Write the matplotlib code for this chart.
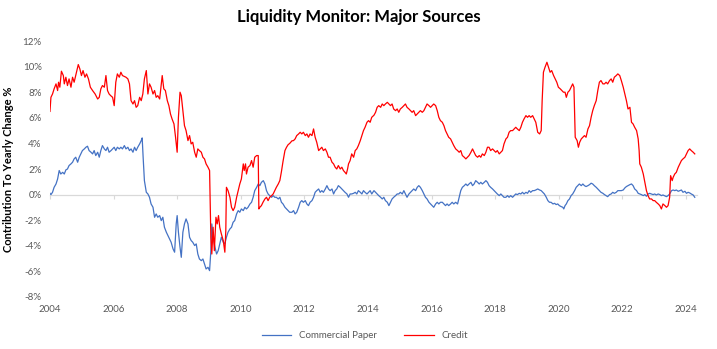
import matplotlib
matplotlib.use("Agg")
import matplotlib.pyplot as plt

# values (decimal years, % contribution)
credit_years = [
    2004.00, 2004.03, 2004.08, 2004.13, 2004.19, 2004.24, 2004.27, 2004.31, 2004.36, 2004.42,
    2004.45, 2004.50, 2004.55, 2004.60, 2004.66, 2004.71, 2004.76, 2004.81, 2004.89, 2004.94,
    2004.99, 2005.04, 2005.10, 2005.15, 2005.21, 2005.27, 2005.34, 2005.42, 2005.50, 2005.55,
    2005.60, 2005.65, 2005.71, 2005.76, 2005.81, 2005.86, 2005.91, 2005.97, 2006.02, 2006.07,
    2006.12, 2006.18, 2006.23, 2006.28, 2006.39, 2006.45, 2006.50, 2006.55, 2006.61, 2006.66,
    2006.71, 2006.76, 2006.82, 2006.87, 2006.92, 2006.97, 2007.03, 2007.08, 2007.13, 2007.18,
    2007.24, 2007.29, 2007.34, 2007.39, 2007.45, 2007.50, 2007.53, 2007.58, 2007.63, 2007.69,
    2007.74, 2007.79, 2007.84, 2007.90, 2007.95, 2008.00, 2008.04, 2008.09, 2008.13, 2008.18,
    2008.23, 2008.28, 2008.34, 2008.39, 2008.44, 2008.49, 2008.55, 2008.60, 2008.65, 2008.70,
    2008.76, 2008.81, 2008.86, 2008.91, 2008.97, 2009.02, 2009.06, 2009.09, 2009.13, 2009.17,
    2009.22, 2009.26, 2009.30, 2009.34, 2009.39, 2009.45, 2009.50, 2009.53, 2009.55, 2009.60,
    2009.66, 2009.71, 2009.76, 2009.81, 2009.87, 2009.92, 2009.97, 2010.02, 2010.08, 2010.11,
    2010.15, 2010.18, 2010.23, 2010.29, 2010.34, 2010.39, 2010.44, 2010.50, 2010.55, 2010.57,
    2010.60, 2010.65, 2010.70, 2010.76, 2010.81, 2010.86, 2010.91, 2010.97, 2011.02, 2011.07,
    2011.12, 2011.18, 2011.23, 2011.28, 2011.33, 2011.39, 2011.44, 2011.49, 2011.54, 2011.61,
    2011.66, 2011.71, 2011.76, 2011.82, 2011.87, 2011.92, 2011.97, 2012.03, 2012.08, 2012.13,
    2012.18, 2012.24, 2012.29, 2012.34, 2012.39, 2012.45, 2012.50, 2012.55, 2012.60, 2012.66,
    2012.71, 2012.76, 2012.81, 2012.87, 2012.92, 2012.97, 2013.02, 2013.07, 2013.13, 2013.18,
    2013.23, 2013.28, 2013.32, 2013.36, 2013.39, 2013.44, 2013.49, 2013.55, 2013.60, 2013.65,
    2013.70, 2013.76, 2013.81, 2013.86, 2013.91, 2013.97, 2014.02, 2014.07, 2014.12, 2014.19,
    2014.24, 2014.29, 2014.34, 2014.40, 2014.45, 2014.50, 2014.55, 2014.61, 2014.66, 2014.71,
    2014.76, 2014.81, 2014.87, 2014.92, 2014.97, 2015.02, 2015.08, 2015.13, 2015.18, 2015.23,
    2015.29, 2015.34, 2015.39, 2015.44, 2015.50, 2015.55, 2015.60, 2015.65, 2015.71, 2015.76,
    2015.81, 2015.86, 2015.92, 2015.97, 2016.02, 2016.07, 2016.13, 2016.18, 2016.23, 2016.28,
    2016.34, 2016.39, 2016.44, 2016.49, 2016.54, 2016.60, 2016.65, 2016.70, 2016.76, 2016.82,
    2016.87, 2016.92, 2016.97, 2017.03, 2017.08, 2017.13, 2017.18, 2017.24, 2017.29, 2017.34,
    2017.39, 2017.45, 2017.50, 2017.55, 2017.60, 2017.66, 2017.71, 2017.76, 2017.81, 2017.86,
    2017.92, 2017.97, 2018.02, 2018.07, 2018.13, 2018.18, 2018.23, 2018.28, 2018.34, 2018.39,
    2018.44, 2018.49, 2018.55, 2018.60, 2018.65, 2018.70, 2018.76, 2018.81, 2018.86, 2018.91,
    2018.97, 2019.02, 2019.07, 2019.12, 2019.18, 2019.23, 2019.28, 2019.34, 2019.40, 2019.45,
    2019.48, 2019.52, 2019.57, 2019.63, 2019.68, 2019.73, 2019.78, 2019.84, 2019.89, 2019.94,
    2019.99, 2020.05, 2020.10, 2020.15, 2020.20, 2020.24, 2020.29, 2020.34, 2020.39, 2020.44,
    2020.48, 2020.50, 2020.52, 2020.55, 2020.58, 2020.62, 2020.66, 2020.71, 2020.76, 2020.81,
    2020.86, 2020.92, 2020.97, 2021.02, 2021.07, 2021.12, 2021.18, 2021.23, 2021.28, 2021.33,
    2021.39, 2021.44, 2021.49, 2021.54, 2021.60, 2021.65, 2021.70, 2021.75, 2021.81, 2021.86,
    2021.92, 2021.97, 2022.03, 2022.08, 2022.13, 2022.18, 2022.24, 2022.29, 2022.34, 2022.39,
    2022.45, 2022.50, 2022.53, 2022.55, 2022.60, 2022.66, 2022.71, 2022.76, 2022.81, 2022.86,
    2022.92, 2022.97, 2023.02, 2023.07, 2023.13, 2023.18, 2023.23, 2023.28, 2023.34, 2023.39,
    2023.44, 2023.49, 2023.52, 2023.57, 2023.60, 2023.65, 2023.70, 2023.76, 2023.81, 2023.86,
    2023.91, 2023.97, 2024.02, 2024.07, 2024.12, 2024.17, 2024.23, 2024.28,
]
credit_values = [
    6.50, 7.60, 7.86, 8.26, 8.65, 8.13, 8.78, 8.39, 9.64, 9.30,
    8.65, 9.17, 8.52, 9.04, 8.39, 9.17, 8.78, 9.30, 10.16, 9.82,
    9.30, 9.69, 9.17, 9.43, 9.04, 8.39, 8.13, 7.86, 7.47, 7.60,
    8.26, 8.52, 8.39, 9.30, 8.13, 7.86, 7.73, 7.60, 6.95, 8.78,
    9.43, 9.17, 9.56, 9.30, 9.17, 9.04, 8.65, 7.34, 7.08, 7.34,
    6.82, 6.95, 7.60, 7.34, 7.86, 9.04, 9.69, 7.86, 8.65, 8.39,
    7.86, 8.13, 7.60, 7.73, 7.47, 8.65, 9.30, 8.26, 8.13, 7.34,
    6.95, 6.30, 5.91, 5.52, 4.48, 3.31, 6.04, 8.00, 7.73, 6.56,
    5.39, 5.00, 4.22, 4.61, 3.96, 4.09, 3.31, 2.92, 3.57, 3.44,
    3.31, 2.92, 2.79, 2.40, 2.14, 1.88, -3.33, -4.64, -2.55, -4.38,
    -1.77, -2.29, -1.64, -2.55, -3.07, -3.59, -4.50, -2.81, 0.57, 0.31,
    -0.21, -0.99, -1.25, -0.99, -0.21, 0.31, 0.83, 1.22, 2.40, 1.88,
    2.40, 1.61, 2.14, 2.27, 2.66, 2.14, 2.92, 3.05, 3.05, -1.12,
    -0.99, -0.86, -0.60, -0.34, -0.21, -0.47, -0.21, -0.08, 0.05, 0.31,
    0.57, 0.83, 1.10, 1.80, 2.60, 3.44, 3.70, 3.90, 4.00, 4.20,
    4.22, 4.35, 4.61, 4.74, 4.87, 4.74, 4.87, 4.61, 4.74, 4.48,
    4.74, 4.61, 5.13, 4.48, 4.09, 3.44, 3.57, 3.70, 3.44, 3.57,
    3.31, 2.92, 2.92, 2.53, 2.40, 2.14, 2.00, 2.27, 2.00, 2.14,
    1.88, 1.74, 1.61, 2.00, 2.40, 2.66, 3.18, 2.92, 3.44, 3.57,
    3.83, 4.22, 4.61, 5.00, 5.26, 5.65, 5.78, 5.65, 6.04, 6.20,
    6.43, 6.82, 6.95, 6.82, 7.08, 6.95, 7.08, 7.21, 7.08, 6.95,
    7.08, 6.69, 6.56, 6.69, 6.43, 6.69, 6.82, 6.95, 7.08, 6.82,
    6.69, 6.56, 6.43, 6.56, 6.17, 6.30, 6.43, 6.56, 6.43, 6.56,
    6.82, 7.08, 6.95, 6.82, 6.95, 7.08, 6.95, 6.56, 6.04, 5.78,
    5.65, 5.39, 5.00, 4.74, 4.48, 4.35, 4.09, 3.83, 3.57, 3.44,
    3.31, 3.44, 3.05, 2.92, 2.79, 2.92, 3.05, 3.31, 3.57, 3.31,
    3.05, 2.92, 3.05, 2.92, 3.18, 3.05, 3.31, 3.70, 3.70, 3.44,
    3.57, 3.44, 3.31, 3.44, 3.18, 3.31, 3.44, 3.96, 4.35, 4.48,
    4.87, 5.00, 5.00, 5.13, 5.26, 5.13, 5.00, 5.26, 5.65, 5.91,
    6.17, 6.04, 6.17, 6.04, 6.17, 5.91, 5.65, 4.87, 4.74, 5.00,
    7.34, 9.56, 9.95, 10.34, 9.95, 9.56, 9.69, 9.30, 9.04, 8.78,
    8.39, 8.26, 8.13, 8.00, 8.00, 7.60, 8.00, 8.13, 8.39, 8.65,
    8.39, 6.56, 4.48, 4.35, 4.22, 3.70, 4.09, 4.35, 4.48, 4.61,
    4.48, 5.13, 5.39, 6.04, 6.56, 6.95, 7.34, 8.13, 8.78, 8.91,
    8.65, 8.65, 8.78, 8.65, 8.91, 9.04, 8.78, 9.17, 9.30, 9.43,
    9.30, 8.91, 8.39, 7.86, 7.34, 6.69, 6.82, 5.65, 5.52, 5.26,
    5.00, 4.35, 3.44, 2.40, 2.14, 1.61, 0.96, 0.31, -0.08, -0.34,
    -0.34, -0.47, -0.47, -0.60, -0.73, -0.86, -1.12, -0.73, -0.86, -0.99,
    -0.86, -0.21, 1.48, 1.09, 1.35, 1.61, 1.74, 2.14, 2.40, 2.66,
    2.79, 2.92, 3.18, 3.44, 3.57, 3.44, 3.31, 3.18,
]

cp_years = [
    2004.00, 2004.03, 2004.08, 2004.13, 2004.19, 2004.24, 2004.29, 2004.34, 2004.40, 2004.45,
    2004.50, 2004.55, 2004.60, 2004.66, 2004.71, 2004.76, 2004.81, 2004.87, 2004.92, 2004.97,
    2005.02, 2005.08, 2005.13, 2005.18, 2005.23, 2005.29, 2005.34, 2005.39, 2005.44, 2005.50,
    2005.55, 2005.60, 2005.65, 2005.71, 2005.76, 2005.81, 2005.86, 2005.92, 2005.97, 2006.02,
    2006.07, 2006.12, 2006.18, 2006.23, 2006.28, 2006.34, 2006.39, 2006.45, 2006.50, 2006.55,
    2006.61, 2006.66, 2006.71, 2006.76, 2006.82, 2006.87, 2006.90, 2006.93, 2006.97, 2007.03,
    2007.08, 2007.13, 2007.18, 2007.24, 2007.29, 2007.34, 2007.39, 2007.45, 2007.50, 2007.55,
    2007.60, 2007.66, 2007.71, 2007.76, 2007.81, 2007.87, 2007.92, 2007.97, 2008.00, 2008.04,
    2008.09, 2008.13, 2008.18, 2008.23, 2008.28, 2008.34, 2008.39, 2008.44, 2008.49, 2008.55,
    2008.60, 2008.65, 2008.70, 2008.76, 2008.81, 2008.86, 2008.91, 2008.97, 2009.02, 2009.06,
    2009.09, 2009.13, 2009.19, 2009.24, 2009.29, 2009.34, 2009.39, 2009.45, 2009.50, 2009.55,
    2009.60, 2009.66, 2009.71, 2009.76, 2009.81, 2009.87, 2009.92, 2009.97, 2010.02, 2010.08,
    2010.13, 2010.18, 2010.23, 2010.29, 2010.34, 2010.39, 2010.44, 2010.50, 2010.55, 2010.60,
    2010.65, 2010.71, 2010.76, 2010.81, 2010.86, 2010.91, 2010.97, 2011.02, 2011.07, 2011.12,
    2011.18, 2011.23, 2011.28, 2011.33, 2011.39, 2011.44, 2011.49, 2011.54, 2011.61, 2011.66,
    2011.71, 2011.76, 2011.82, 2011.87, 2011.92, 2011.97, 2012.03, 2012.08, 2012.13, 2012.18,
    2012.24, 2012.29, 2012.34, 2012.39, 2012.45, 2012.50, 2012.55, 2012.60, 2012.66, 2012.71,
    2012.76, 2012.81, 2012.87, 2012.92, 2012.97, 2013.02, 2013.07, 2013.13, 2013.18, 2013.23,
    2013.28, 2013.34, 2013.39, 2013.44, 2013.49, 2013.55, 2013.60, 2013.65, 2013.70, 2013.76,
    2013.81, 2013.86, 2013.91, 2013.97, 2014.02, 2014.07, 2014.12, 2014.19, 2014.24, 2014.29,
    2014.34, 2014.40, 2014.45, 2014.50, 2014.55, 2014.61, 2014.66, 2014.71, 2014.76, 2014.81,
    2014.87, 2014.92, 2014.97, 2015.02, 2015.08, 2015.13, 2015.18, 2015.23, 2015.29, 2015.34,
    2015.39, 2015.44, 2015.50, 2015.55, 2015.60, 2015.65, 2015.71, 2015.76, 2015.81, 2015.86,
    2015.92, 2015.97, 2016.02, 2016.07, 2016.13, 2016.18, 2016.23, 2016.28, 2016.34, 2016.39,
    2016.44, 2016.49, 2016.54, 2016.60, 2016.65, 2016.70, 2016.76, 2016.82, 2016.87, 2016.92,
    2016.97, 2017.03, 2017.08, 2017.13, 2017.18, 2017.24, 2017.29, 2017.34, 2017.39, 2017.45,
    2017.50, 2017.55, 2017.60, 2017.66, 2017.71, 2017.76, 2017.81, 2017.86, 2017.92, 2017.97,
    2018.02, 2018.07, 2018.13, 2018.18, 2018.23, 2018.28, 2018.34, 2018.39, 2018.44, 2018.49,
    2018.55, 2018.60, 2018.65, 2018.70, 2018.76, 2018.81, 2018.86, 2018.91, 2018.97, 2019.02,
    2019.07, 2019.12, 2019.18, 2019.23, 2019.28, 2019.34, 2019.40, 2019.45, 2019.50, 2019.55,
    2019.61, 2019.66, 2019.71, 2019.76, 2019.82, 2019.87, 2019.92, 2019.97, 2020.02, 2020.08,
    2020.13, 2020.16, 2020.20, 2020.24, 2020.29, 2020.34, 2020.39, 2020.44, 2020.50, 2020.55,
    2020.60, 2020.65, 2020.71, 2020.76, 2020.81, 2020.86, 2020.92, 2020.97, 2021.02, 2021.07,
    2021.12, 2021.18, 2021.23, 2021.28, 2021.33, 2021.39, 2021.44, 2021.49, 2021.54, 2021.60,
    2021.65, 2021.70, 2021.75, 2021.81, 2021.86, 2021.92, 2021.97, 2022.03, 2022.08, 2022.13,
    2022.18, 2022.24, 2022.29, 2022.34, 2022.39, 2022.45, 2022.50, 2022.55, 2022.60, 2022.66,
    2022.71, 2022.76, 2022.81, 2022.86, 2022.92, 2022.97, 2023.02, 2023.07, 2023.13, 2023.18,
    2023.23, 2023.28, 2023.34, 2023.39, 2023.44, 2023.49, 2023.55, 2023.60, 2023.65, 2023.70,
    2023.76, 2023.81, 2023.86, 2023.91, 2023.97, 2024.02, 2024.07, 2024.12, 2024.17, 2024.23,
    2024.28,
]
cp_values = [
    0.10, 0.00, 0.18, 0.57, 0.83, 1.22, 1.88, 1.61, 1.74, 1.61,
    1.93, 2.00, 2.27, 2.40, 2.53, 2.79, 2.92, 2.53, 2.92, 3.18,
    3.44, 3.57, 3.70, 3.78, 3.44, 3.31, 3.18, 3.44, 3.05, 3.31,
    2.92, 3.44, 3.83, 3.57, 3.44, 3.70, 3.31, 3.44, 3.57, 3.70,
    3.44, 3.70, 3.57, 3.70, 3.57, 3.83, 3.57, 3.70, 3.44, 3.57,
    3.31, 3.70, 3.44, 3.70, 3.96, 4.22, 4.43, 2.92, 1.09, 0.18,
    0.05, -0.21, -0.73, -0.99, -1.77, -1.51, -1.77, -1.64, -2.03, -1.77,
    -2.55, -2.94, -3.20, -3.46, -3.72, -4.24, -4.50, -2.29, -1.64, -2.94,
    -4.11, -4.90, -2.94, -2.29, -1.90, -2.29, -3.33, -3.59, -3.72, -3.98,
    -3.85, -4.64, -5.03, -5.16, -5.03, -5.42, -5.81, -5.68, -5.94, -4.38,
    -2.29, -3.33, -4.11, -4.64, -4.38, -3.85, -3.33, -3.72, -3.85, -3.33,
    -2.94, -2.68, -2.55, -2.16, -2.03, -1.51, -1.25, -1.38, -1.12, -1.25,
    -0.99, -1.12, -0.99, -0.73, -0.60, -0.21, 0.31, 0.57, 0.83, 0.70,
    0.96, 1.09, 0.83, 0.31, 0.05, -0.08, -0.21, -0.08, -0.21, -0.21,
    -0.34, -0.21, -0.60, -0.73, -0.99, -1.12, -1.25, -1.38, -1.38, -1.25,
    -1.51, -1.38, -0.99, -0.60, -0.47, -0.60, -0.47, -0.73, -0.86, -0.60,
    -0.47, -0.21, 0.18, 0.31, 0.44, 0.18, 0.31, 0.18, 0.44, 0.70,
    0.44, 0.31, 0.44, 0.05, 0.31, 0.44, 0.70, 0.57, 0.44, 0.31,
    0.18, 0.05, -0.21, 0.05, 0.05, 0.10, 0.18, 0.05, 0.31, 0.18,
    0.05, 0.31, 0.18, 0.05, 0.18, 0.31, 0.05, 0.31, 0.18, 0.05,
    -0.08, -0.21, -0.34, -0.21, -0.47, -0.60, -0.86, -0.60, -0.34, -0.21,
    -0.08, 0.05, 0.05, 0.18, 0.05, 0.31, 0.05, -0.21, 0.05, 0.18,
    0.31, 0.44, 0.31, 0.57, 0.70, 0.57, 0.31, 0.05, -0.21, -0.34,
    -0.60, -0.73, -0.86, -0.99, -0.73, -0.60, -0.73, -0.60, -0.60, -0.73,
    -0.86, -0.73, -0.86, -0.73, -0.60, -0.73, -0.60, -0.73, -0.21, 0.31,
    0.57, 0.70, 0.83, 0.70, 0.83, 0.96, 0.70, 0.83, 1.09, 0.96,
    0.83, 0.96, 0.83, 0.96, 1.09, 0.96, 0.70, 0.57, 0.44, 0.31,
    0.18, 0.05, -0.08, 0.05, -0.08, -0.21, -0.21, -0.08, -0.21, -0.08,
    -0.21, -0.08, 0.05, 0.00, 0.10, 0.05, 0.18, 0.05, 0.18, 0.10,
    0.31, 0.18, 0.31, 0.31, 0.36, 0.44, 0.36, 0.31, 0.18, 0.05,
    -0.21, -0.47, -0.60, -0.60, -0.73, -0.68, -0.78, -0.73, -0.86, -0.94,
    -0.99, -1.12, -0.86, -0.73, -0.47, -0.34, -0.08, 0.05, 0.31, 0.57,
    0.70, 0.83, 0.70, 0.83, 0.70, 0.63, 0.70, 0.78, 0.89, 0.83,
    0.70, 0.57, 0.44, 0.31, 0.18, 0.10, 0.00, -0.08, -0.16, 0.00,
    0.05, 0.18, 0.10, 0.18, 0.31, 0.31, 0.31, 0.36, 0.52, 0.63,
    0.70, 0.78, 0.83, 0.70, 0.44, 0.31, 0.10, 0.05, 0.00, -0.08,
    0.00, -0.13, 0.05, 0.10, 0.05, 0.00, 0.05, -0.03, 0.05, 0.00,
    -0.08, -0.03, -0.10, -0.16, -0.08, 0.05, 0.31, 0.36, 0.31, 0.36,
    0.26, 0.31, 0.36, 0.18, 0.26, 0.10, 0.18, 0.13, 0.05, -0.03,
    -0.21,
]

x_ticks = [2004, 2006, 2008, 2010, 2012, 2014, 2016, 2018, 2020, 2022, 2024]
y_ticks = [-8, -6, -4, -2, 0, 2, 4, 6, 8, 10, 12]

plt.rcParams["font.family"] = ["Lato", "DejaVu Sans"]

fig = plt.figure(figsize=(7.17, 3.49), dpi=100)
ax = fig.add_axes([0.0697, 0.149, 0.9024, 0.7335])

ax.plot(cp_years, cp_values, color="#4472C4", linewidth=0.9,
        label="Commercial Paper", zorder=3)
ax.plot(credit_years, credit_values, color="#FF0000", linewidth=0.9,
        label="Credit", zorder=4)

ax.set_xlim(2004, 2024.35)
ax.set_ylim(-8, 12)

for s in ax.spines.values():
    s.set_visible(False)

ax.set_yticks(y_ticks)
ax.set_yticklabels([f"{v}%" for v in y_ticks])
ax.set_xticks(x_ticks)
ax.set_xticklabels([str(v) for v in x_ticks])
ax.tick_params(axis="both", length=0, labelsize=7, labelcolor="#595959")
ax.tick_params(axis="x", pad=6)
ax.tick_params(axis="y", pad=6)

# zero line with small ticks (category axis crossing at 0)
zero_axis = ax.secondary_xaxis(0.4)
zero_axis.spines["bottom"].set_color("#D9D9D9")
zero_axis.spines["bottom"].set_linewidth(0.9)
zero_axis.set_xticks(x_ticks)
zero_axis.set_xticklabels([])
zero_axis.tick_params(axis="x", length=3, color="#D9D9D9", direction="out")

ax.set_ylabel("Contribution To Yearly Change %", fontsize=8, fontweight="bold",
              color="#000000", labelpad=6)
fig.suptitle("Liquidity Monitor: Major Sources", x=0.5, y=0.975,
             fontsize=12, fontweight="bold")

ax.legend(loc="upper center", bbox_to_anchor=(0.487, -0.1), ncol=2, frameon=False,
          fontsize=7, handlelength=3, columnspacing=2.8, labelcolor="#595959")

fig.savefig("out.png", dpi=100)
